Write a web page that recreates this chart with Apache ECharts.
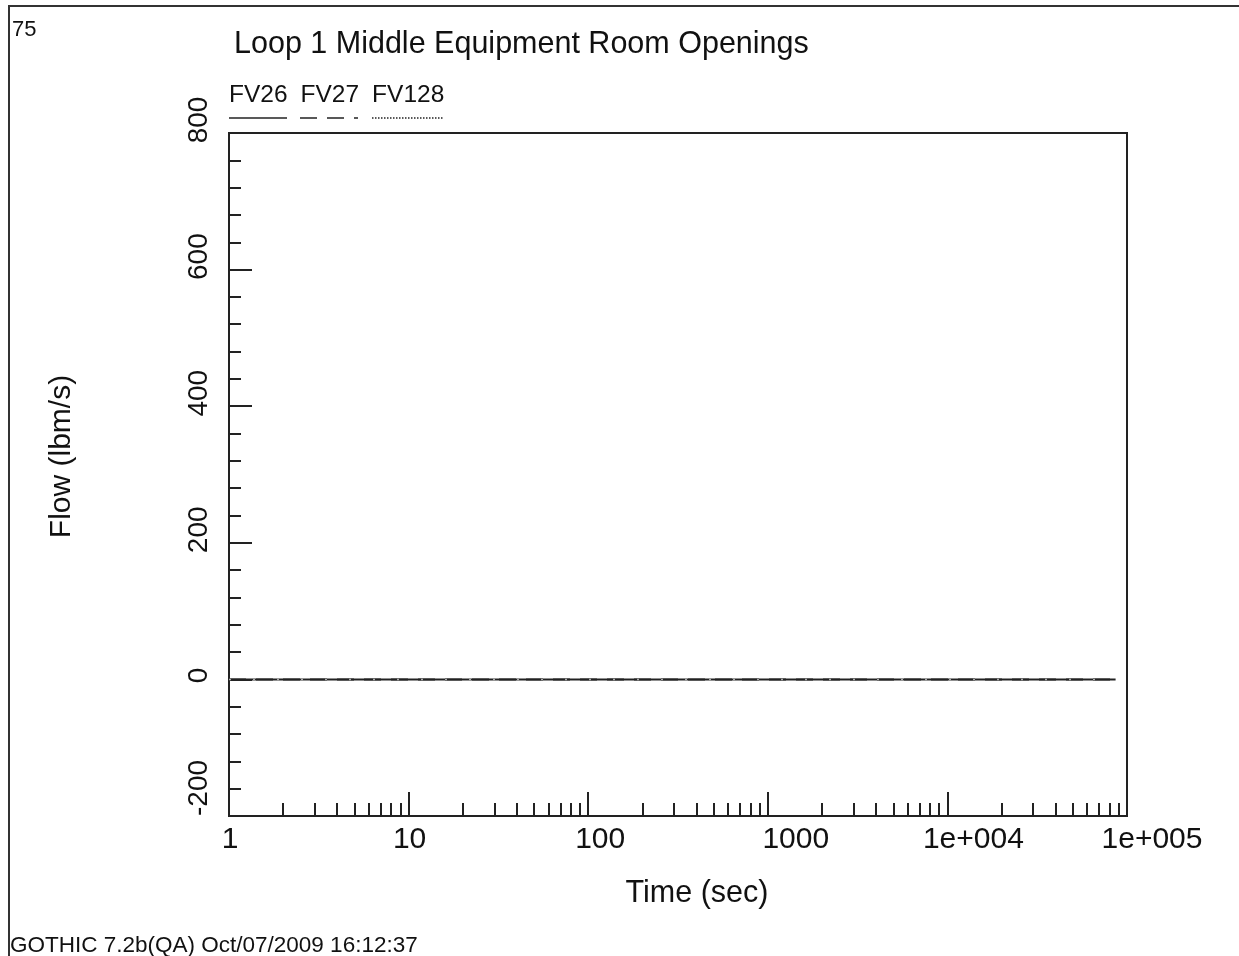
<!DOCTYPE html>
<html>
<head>
<meta charset="utf-8">
<title>Loop 1 Middle Equipment Room Openings</title>
<script src="https://cdn.jsdelivr.net/npm/echarts@6/dist/echarts.min.js"></script>
<style>
  html, body { margin: 0; padding: 0; background: #fff; }
  #chart { width: 1239px; height: 956px; }
</style>
</head>
<body>
<div id="chart"></div>
<script>
// Flow through the loop 1 middle equipment room openings vs. time
const timeSec = [1, 86400];
const fv26 = [0, 0];
const fv27 = [0, 0];
const fv128 = [0, 0];

const seriesNames = ['FV26', 'FV27', 'FV128'];
const xTickValues = [1, 10, 100, 1000, 10000, 100000];
const xTickLabels = ['1', '10', '100', '1000', '1e+004', '1e+005'];
const xMinorValues = [
  2, 3, 4, 5, 6, 7, 8, 9,
  20, 30, 40, 50, 60, 70, 80, 90,
  200, 300, 400, 500, 600, 700, 800, 900,
  2000, 3000, 4000, 5000, 6000, 7000, 8000, 9000,
  20000, 30000, 40000, 50000, 60000, 70000, 80000, 90000
];

const ink = '#222';
const font = '"Liberation Sans", Arial, sans-serif';

const pairs = arr => timeSec.map((t, i) => [t, arr[i]]);

// decade labels sit a little to the right of their ticks
const xLabelShift = [1, 1, 12, 28, 26, 25];
const xRich = {};
xLabelShift.forEach((s, i) => {
  xRich['d' + i] = { fontFamily: font, fontSize: 30, color: '#111', padding: [0, 0, 0, 2 * s] };
});

const chart = echarts.init(document.getElementById('chart'), null, { renderer: 'canvas' });

chart.setOption({
  animation: false,
  backgroundColor: '#fff',
  title: [
    {
      text: 'Loop 1 Middle Equipment Room Openings',
      left: 234, top: 29, padding: 0,
      textStyle: { fontFamily: font, fontSize: 30.5, fontWeight: 'normal', color: '#111' }
    },
    {
      text: '75',
      left: 12, top: 19, padding: 0,
      textStyle: { fontFamily: font, fontSize: 22, fontWeight: 'normal', color: '#111' }
    },
    {
      text: 'GOTHIC 7.2b(QA) Oct/07/2009 16:12:37',
      left: 10, top: 934, padding: 0,
      textStyle: { fontFamily: font, fontSize: 22.5, fontWeight: 'normal', color: '#111' }
    }
  ],
  legend: {
    data: seriesNames,
    left: 224, top: 83, padding: 0,
    icon: 'none', itemWidth: 0, itemHeight: 0, itemGap: 8,
    selectedMode: false,
    textStyle: { fontFamily: font, fontSize: 24.5, color: '#111' }
  },
  grid: {
    left: 229, top: 133, width: 898, height: 683,
    show: true, borderColor: ink, borderWidth: 2, backgroundColor: 'transparent'
  },
  xAxis: [
    {
      type: 'log', logBase: 10, min: 1, max: 100000,
      position: 'bottom',
      name: 'Time (sec)', nameLocation: 'middle', nameGap: 62,
      nameTextStyle: { fontFamily: font, fontSize: 30.5, color: '#111', padding: [0, 0, 0, 38] },
      axisLine: { onZero: false, lineStyle: { color: ink, width: 2 } },
      axisTick: { inside: true, length: 24, lineStyle: { color: ink, width: 2 },
                  customValues: xTickValues },
      axisLabel: {
        margin: 9, fontFamily: font, fontSize: 30, color: '#111',
        customValues: xTickValues,
        formatter: v => {
          const i = xTickValues.indexOf(v);
          return i < 0 ? '' : '{d' + i + '|' + xTickLabels[i] + '}';
        },
        rich: xRich
      },
      splitLine: { show: false },
      minorTick: { show: false }
    },
    {
      type: 'log', logBase: 10, min: 1, max: 100000,
      position: 'bottom', gridIndex: 0,
      axisLine: { show: false, onZero: false },
      axisTick: { inside: true, length: 13, lineStyle: { color: ink, width: 2 },
                  customValues: xMinorValues },
      axisLabel: { show: false },
      splitLine: { show: false }
    }
  ],
  yAxis: {
    type: 'value', min: -200, max: 800, interval: 200,
    name: 'Flow (lbm/s)', nameLocation: 'middle', nameGap: 152,
    nameTextStyle: { fontFamily: font, fontSize: 30, color: '#111', padding: [0, 0, 0, 36] },
    axisLine: { show: true, onZero: false, lineStyle: { color: ink, width: 2 } },
    axisTick: { show: true, inside: true, length: 23, lineStyle: { color: ink, width: 2 } },
    minorTick: { show: true, splitNumber: 5, length: 12, lineStyle: { color: ink, width: 2 } },
    axisLabel: {
      rotate: 90, margin: 16, fontFamily: font, fontSize: 28, color: '#111',
      formatter: v => {
        if (v === -200) return '{low|' + v + '}';
        if (v === 0) return '{zero|' + v + '}';
        return '{mid|' + v + '}';
      },
      rich: {
        low: { fontFamily: font, fontSize: 28, color: '#111', padding: [0, 0, 0, 56] },
        zero: { fontFamily: font, fontSize: 28, color: '#111', padding: [0, 0, 0, 8] },
        mid: { fontFamily: font, fontSize: 28, color: '#111', padding: [0, 0, 0, 26] }
      }
    },
    splitLine: { show: false }
  },
  series: [
    {
      name: 'FV26', type: 'line', xAxisIndex: 0, data: pairs(fv26),
      showSymbol: false, lineStyle: { color: ink, width: 2, type: 'solid' },
      itemStyle: { color: ink }
    },
    {
      name: 'FV27', type: 'line', xAxisIndex: 0, data: pairs(fv27),
      showSymbol: false, lineStyle: { color: ink, width: 2, type: [17, 10] },
      itemStyle: { color: ink }
    },
    {
      name: 'FV128', type: 'line', xAxisIndex: 0, data: pairs(fv128),
      showSymbol: false, lineStyle: { color: '#aaa', width: 1.5, type: [2, 22] },
      itemStyle: { color: ink }
    }
  ],
  graphic: [
    // page frame (top and left edges)
    { type: 'line', silent: true, shape: { x1: 8, y1: 6, x2: 1239, y2: 6 }, style: { stroke: '#333', lineWidth: 2 } },
    { type: 'line', silent: true, shape: { x1: 9, y1: 6, x2: 9, y2: 956 }, style: { stroke: '#333', lineWidth: 2 } },
    // line-style samples under the legend names
    { type: 'line', silent: true, shape: { x1: 229, y1: 118, x2: 287, y2: 118 }, style: { stroke: ink, lineWidth: 1.5 } },
    { type: 'line', silent: true, shape: { x1: 300, y1: 118, x2: 358, y2: 118 }, style: { stroke: ink, lineWidth: 1.5, lineDash: [17, 10] } },
    { type: 'line', silent: true, shape: { x1: 372, y1: 118, x2: 444, y2: 118 }, style: { stroke: ink, lineWidth: 1.5, lineDash: [1.5, 1.5] } }
  ]
});
</script>
</body>
</html>
